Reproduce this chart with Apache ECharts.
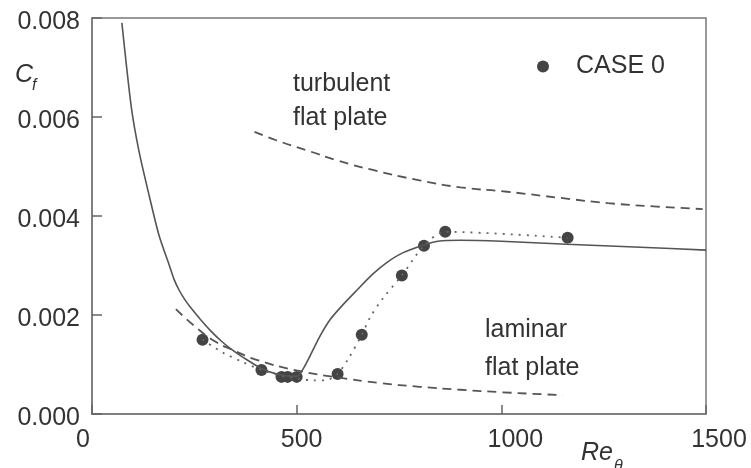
<!DOCTYPE html>
<html>
<head>
<meta charset="utf-8">
<script src="https://cdn.jsdelivr.net/npm/echarts@6/dist/echarts.min.js"></script>
<style>
  html, body { margin: 0; padding: 0; background: #fff; }
  #chart { width: 751px; height: 468px; }
</style>
</head>
<body>
<div id="chart"></div>
<script>
// data: [Re_theta, Cf]
var solidCurve = [
  [73, 0.0079], [96, 0.0062], [115, 0.0053], [140, 0.0044], [164, 0.0036],
  [189, 0.003], [200, 0.00273], [213, 0.0025], [226, 0.00232], [240, 0.00216],
  [265, 0.00191], [290, 0.00168], [315, 0.00148], [340, 0.00131], [370, 0.00114],
  [414, 0.00092], [455, 0.0008], [495, 0.00076], [505, 0.00078], [515, 0.0009],
  [530, 0.00113], [556, 0.00156], [581, 0.0019], [610, 0.00218], [647, 0.0025],
  [685, 0.00282], [720, 0.00306], [760, 0.00326], [809, 0.00341], [845, 0.00349],
  [900, 0.00351], [1000, 0.00349], [1160, 0.00343], [1340, 0.00337], [1500, 0.00331]
];
var laminarPlate = [
  [205, 0.00212], [250, 0.00178], [300, 0.00147], [350, 0.00127], [400, 0.0011],
  [500, 0.00088], [600, 0.00074], [700, 0.00063], [800, 0.00055], [900, 0.00049],
  [1000, 0.00044], [1150, 0.00038]
];
var turbulentPlate = [
  [397, 0.0057], [450, 0.00553], [524, 0.00533], [600, 0.00512], [686, 0.00493],
  [800, 0.00472], [900, 0.00458], [1014, 0.00449], [1150, 0.00436], [1260, 0.00426],
  [1380, 0.00419], [1492, 0.00414]
];
var case0 = [
  [270, 0.0015], [414, 0.00089], [463, 0.00075], [478, 0.00075], [500, 0.00075],
  [600, 0.00081], [659, 0.0016], [757, 0.0028], [811, 0.0034], [863, 0.00368],
  [1162, 0.00356]
];
var case0Trend = [
  [270, 0.0015], [320, 0.00124], [368, 0.00105], [414, 0.00089], [463, 0.00077],
  [500, 0.00072], [540, 0.00068], [570, 0.00068], [600, 0.00081], [625, 0.0011],
  [659, 0.0016], [680, 0.00196], [711, 0.00234], [757, 0.0028], [811, 0.0034],
  [863, 0.00368], [1162, 0.00356]
];
var xTicks = [0, 500, 1000, 1500];
var yTicks = [0, 0.002, 0.004, 0.006, 0.008];

var font = '"Liberation Sans", Arial, sans-serif';
var ink = '#333';
var lineCol = '#555';

// the x tick labels in the figure sit a little off their ticks
var xLabelStyle = {
  a: { padding: [0, 18, 0, 0] },
  b: { padding: [0, 0, 0, 10] },
  c: { padding: [0, 0, 0, 28] },
  d: { padding: [0, 0, 0, 26] }
};
['a', 'b', 'c', 'd'].forEach(function (k) {
  xLabelStyle[k].fontFamily = font;
  xLabelStyle[k].fontSize = 25;
  xLabelStyle[k].color = ink;
});

var myChart = echarts.init(document.getElementById('chart'));

var option = {
  backgroundColor: '#fff',
  animation: false,
  grid: {
    left: 92, top: 18, right: 45, bottom: 54,
    show: true, borderColor: '#777', borderWidth: 1.5
  },
  legend: {
    data: ['CASE 0'],
    left: 537, top: 54, padding: 0,
    icon: 'circle', itemWidth: 12, itemHeight: 12,
    textStyle: { fontFamily: font, fontSize: 25, color: ink, padding: [0, 0, 0, 22] }
  },
  xAxis: {
    type: 'value', min: xTicks[0], max: xTicks[xTicks.length - 1], interval: 500,
    axisLine: { lineStyle: { color: '#777', width: 1.5 } },
    axisTick: { inside: true, length: 9, lineStyle: { color: '#666', width: 1.5 } },
    axisLabel: {
      margin: 14, fontFamily: font, fontSize: 25, color: ink,
      formatter: function (v) {
        var k = 'abcd'.charAt(xTicks.indexOf(v));
        return '{' + k + '|' + v + '}';
      },
      rich: xLabelStyle
    },
    splitLine: { show: false }
  },
  yAxis: {
    type: 'value', min: yTicks[0], max: yTicks[yTicks.length - 1], interval: 0.002,
    axisLine: { show: true, lineStyle: { color: '#777', width: 1.5 } },
    axisTick: { show: true, inside: true, length: 10, lineStyle: { color: '#666', width: 1.5 } },
    axisLabel: {
      margin: 12, fontFamily: font, fontSize: 25, color: ink,
      verticalAlign: 'top', lineHeight: 8,
      formatter: function (v) { return v.toFixed(3); }
    },
    splitLine: { show: false }
  },
  graphic: [
    { type: 'text', x: 293, y: 72, style: { text: 'turbulent', font: '25px ' + font, fill: ink } },
    { type: 'text', x: 293, y: 106, style: { text: 'flat plate', font: '25px ' + font, fill: ink } },
    { type: 'text', x: 485, y: 318, style: { text: 'laminar', font: '25px ' + font, fill: ink } },
    { type: 'text', x: 485, y: 356, style: { text: 'flat plate', font: '25px ' + font, fill: ink } },
    { type: 'text', x: 15, y: 63, style: { text: 'C', font: 'italic 25px ' + font, fill: ink } },
    { type: 'text', x: 32, y: 78, style: { text: 'f', font: 'italic 16px ' + font, fill: ink } },
    { type: 'text', x: 581, y: 441, style: { text: 'Re', font: 'italic 25px ' + font, fill: ink } },
    { type: 'text', x: 614, y: 459, style: { text: 'θ', font: 'italic 16px ' + font, fill: ink } }
  ],
  series: [
    {
      name: 'solid', type: 'line', data: solidCurve, smooth: 0.25,
      showSymbol: false, lineStyle: { color: lineCol, width: 1.6 }
    },
    {
      name: 'laminar', type: 'line', data: laminarPlate, smooth: true,
      showSymbol: false, lineStyle: { color: lineCol, width: 1.8, type: [9, 6] }
    },
    {
      name: 'turbulent', type: 'line', data: turbulentPlate, smooth: true,
      showSymbol: false, lineStyle: { color: lineCol, width: 1.8, type: [9, 6] }
    },
    {
      name: 'trend', type: 'line', data: case0Trend, smooth: 0.3,
      showSymbol: false, lineStyle: { color: '#666', width: 1.8, type: [2, 6] }
    },
    {
      name: 'CASE 0', type: 'scatter', data: case0, symbolSize: 12,
      itemStyle: { color: '#444', opacity: 1 }
    }
  ]
};
myChart.setOption(option);
</script>
</body>
</html>
